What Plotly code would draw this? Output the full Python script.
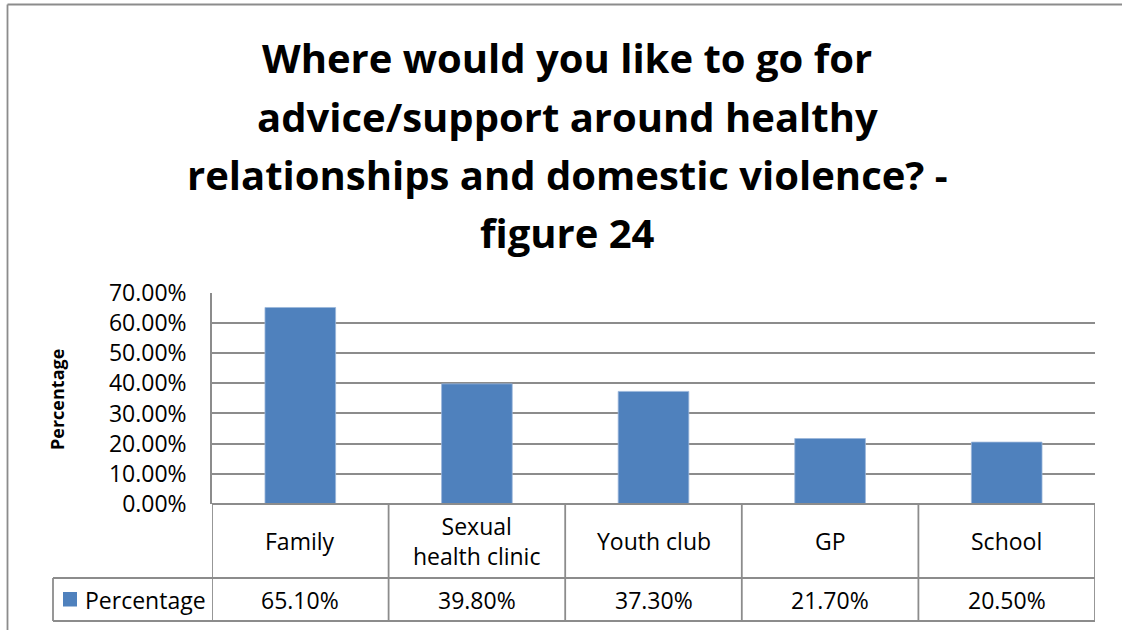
import plotly.graph_objects as go

# Survey responses
categories = ["Family", "Sexual<br>health clinic", "Youth club", "GP", "School"]
percentages = [0.651, 0.398, 0.373, 0.217, 0.205]
series_name = "Percentage"
title_lines = [
    "Where would you like to go for",
    "advice/support around healthy",
    "relationships and domestic violence? -",
    "figure 24",
]
y_ticks = [0, 0.1, 0.2, 0.3, 0.4, 0.5, 0.6, 0.7]

W, H = 1122, 630
BAR_BLUE = "#4F81BD"
LINE_GREY = "#8c8c8c"
FONT = "Open Sans"
TEXT_SIZE = 23

# pixel helpers for the layout grid
def px_x(x):
    return x / W

def px_y(y):
    return 1 - y / H

plot_left, plot_right = 212, 1095
plot_top, plot_bottom = 292.7, 504
row_split, table_bottom = 578, 621
legend_left = 53

fig = go.Figure()
fig.add_trace(go.Bar(
    x=list(range(len(categories))),
    y=percentages,
    marker=dict(color=BAR_BLUE, line=dict(color="#9ab6da", width=0.8)),
    name=series_name,
    showlegend=False,
    hoverinfo="skip",
))

fig.update_layout(
    width=W, height=H,
    autosize=False,
    margin=dict(l=0, r=0, t=0, b=0, pad=0, autoexpand=False),
    paper_bgcolor="white",
    plot_bgcolor="white",
    bargap=0.6,
    showlegend=False,
    font=dict(family=FONT, color="black"),
    xaxis=dict(
        domain=[px_x(plot_left), px_x(plot_right)],
        range=[-0.5, len(categories) - 0.5],
        showticklabels=False,
        showgrid=False,
        zeroline=False,
        showline=False,
        automargin=False,
        fixedrange=True,
    ),
    yaxis=dict(
        domain=[px_y(plot_bottom), px_y(plot_top)],
        range=[0, 0.7],
        tickvals=y_ticks,
        tickformat=".2%",
        tickfont=dict(family=FONT, size=TEXT_SIZE, color="black"),
        ticks="",
        ticklabelstandoff=19,
        showgrid=True,
        gridcolor=LINE_GREY,
        gridwidth=1.5,
        zeroline=False,
        showline=True,
        linecolor=LINE_GREY,
        linewidth=1.5,
        automargin=False,
        fixedrange=True,
    ),
)

shapes = []

def hline(y, x0, x1, xref="paper"):
    shapes.append(dict(type="line", xref=xref, yref="paper",
                       x0=x0, x1=x1, y0=px_y(y), y1=px_y(y),
                       line=dict(color=LINE_GREY, width=1.8)))

def vline(x, y0, y1, xref="paper"):
    shapes.append(dict(type="line", xref=xref, yref="paper",
                       x0=x, x1=x, y0=px_y(y0), y1=px_y(y1),
                       line=dict(color=LINE_GREY, width=1.8)))

# outer chart frame
hline(4.5, px_x(7.5), 1.0)
vline(px_x(7.5), 4.5, H)

# data table grid
hline(plot_bottom, px_x(plot_left), px_x(plot_right))
hline(row_split, px_x(legend_left), px_x(plot_right))
hline(table_bottom, px_x(legend_left), px_x(plot_right))
for k in range(len(categories) + 1):
    vline(k - 0.5, plot_bottom, table_bottom, xref="x")
vline(px_x(legend_left), row_split, table_bottom)

# legend key in the table
shapes.append(dict(type="rect", xref="paper", yref="paper",
                   x0=px_x(63), x1=px_x(77), y0=px_y(606.5), y1=px_y(592),
                   fillcolor=BAR_BLUE, line=dict(width=0)))

annotations = []

# title
title_centers = [57, 116, 174, 232]
for line, yc in zip(title_lines, title_centers):
    annotations.append(dict(
        text=f"<b>{line}</b>", xref="paper", yref="paper",
        x=px_x(567), y=px_y(yc), xanchor="center", yanchor="middle",
        showarrow=False, font=dict(family=FONT, size=40, color="black"),
    ))

# y-axis title
annotations.append(dict(
    text=f"<b>{series_name}</b>", xref="paper", yref="paper",
    x=px_x(57), y=px_y(400), xanchor="center", yanchor="middle",
    textangle=-90, showarrow=False,
    font=dict(family=FONT, size=18, color="black"),
))

# table rows: categories and values
for i, (cat, val) in enumerate(zip(categories, percentages)):
    annotations.append(dict(
        text=cat, xref="x", yref="paper", x=i, y=px_y(541),
        xanchor="center", yanchor="middle", showarrow=False,
        font=dict(family=FONT, size=TEXT_SIZE, color="black"),
    ))
    annotations.append(dict(
        text=f"{val * 100:.2f}%", xref="x", yref="paper", x=i, y=px_y(600),
        xanchor="center", yanchor="middle", showarrow=False,
        font=dict(family=FONT, size=TEXT_SIZE, color="black"),
    ))

annotations.append(dict(
    text=series_name, xref="paper", yref="paper", x=px_x(83), y=px_y(600),
    xanchor="left", yanchor="middle", showarrow=False,
    font=dict(family=FONT, size=TEXT_SIZE, color="black"),
))

fig.update_layout(shapes=shapes, annotations=annotations)

fig.write_html("out.html")
